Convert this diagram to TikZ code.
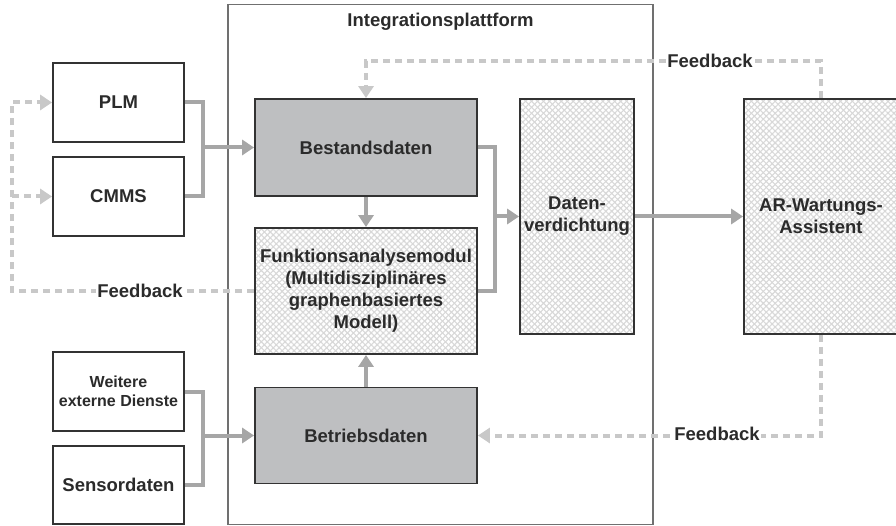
\documentclass[tikz,border=0pt]{standalone}
\usepackage{fontspec}
\setmainfont{Liberation Sans}
\usetikzlibrary{arrows.meta,patterns.meta}
\definecolor{txt}{HTML}{2B2B2B}
\definecolor{border}{HTML}{333333}
\definecolor{darkfill}{HTML}{BEBFC1}
\definecolor{conncol}{HTML}{A6A6A6}
\definecolor{fbcol}{HTML}{C8C8C8}
\definecolor{platcol}{HTML}{707070}
\definecolor{hatchcol}{HTML}{D8D8D8}
\tikzset{
  box/.style={draw=border, line width=1.8pt, fill=white, text=txt, align=center,
    font=\fontsize{18.5}{22}\selectfont\bfseries, inner sep=0pt},
  darkbox/.style={box, fill=darkfill},
  hatchbox/.style={draw=border, line width=1.8pt, text=txt, align=center,
    font=\fontsize{18.5}{22}\selectfont\bfseries, inner sep=0pt,
    preaction={fill=white},
    preaction={pattern={Lines[angle=45,distance=4.2pt,line width=1.1pt]}, pattern color=hatchcol},
    preaction={pattern={Lines[angle=-45,distance=4.2pt,line width=1.1pt]}, pattern color=hatchcol}},
  conn/.style={draw=conncol, line width=4pt},
  flow/.style={conn, -{Triangle[length=12pt,width=15pt]}},
  fb/.style={draw=fbcol, line width=4pt, dash pattern=on 7pt off 5pt},
  fbarrow/.style={fb, -{Triangle[length=12pt,width=15pt]}},
  fblabel/.style={fill=white, text=txt, font=\fontsize{18.5}{22}\selectfont\bfseries, inner sep=1pt},
  plat/.style={draw=platcol, line width=1.5pt}
}
\begin{document}
\begin{tikzpicture}[x=1pt,y=-1pt]
\useasboundingbox (0,0) rectangle (896,526);
% platform
\node[plat, minimum width=425pt, minimum height=520pt, inner sep=0pt] (plat) at (440.5,264.5) {};
\node[text=txt, font=\fontsize{18.5}{22}\selectfont\bfseries] (plattitle) at (440.5,22) {Integrationsplattform};
% external sources
\node[box, minimum width=131pt, minimum height=79pt] (plm) at (118.5,102.5) {PLM};
\node[box, minimum width=131pt, minimum height=79pt] (cmms) at (118.5,196.5) {CMMS};
\node[box, minimum width=131pt, minimum height=79pt, font=\fontsize{16}{19}\selectfont\bfseries] (weitere) at (118.5,391.5) {Weitere\\externe Dienste};
\node[box, minimum width=131pt, minimum height=78pt] (sensor) at (118.5,485) {Sensordaten};
% platform content
\node[darkbox, minimum width=222pt, minimum height=97pt] (best) at (366,147.5) {Bestandsdaten};
\node[hatchbox, minimum width=222pt, minimum height=126pt] (funk) at (366,291) {Funktionsanalysemodul\\(Multidisziplinäres\\graphenbasiertes\\Modell)};
\node[darkbox, minimum width=222pt, minimum height=96pt] (betr) at (366,435.5) {Betriebsdaten};
\node[hatchbox, minimum width=114pt, minimum height=235pt] (daten) at (577,216.5) {Daten-\\verdichtung};
\node[hatchbox, minimum width=154pt, minimum height=235pt] (ar) at (821,216.5) {AR-Wartungs-\\Assistent};
% junction coordinates
\coordinate (j1) at (203,147.5);
\coordinate (j2) at (203,435.5);
\coordinate (j3) at (495,216.5);
\coordinate (t1) at (366,61);
\coordinate (l1) at (12,291);
\coordinate (l2) at (12,102.5);
\coordinate (l3) at (12,196.5);
% solid connectors
\draw[conn] (plm.east) -| (j1);
\draw[conn] (cmms.east) -| (j1);
\draw[flow] (j1) -- (best.west);
\draw[conn] (weitere.east) -| (j2);
\draw[conn] (sensor.east) -| (j2);
\draw[flow] (j2) -- (betr.west);
\draw[flow] (best.south) -- (funk.north);
\draw[flow] (betr.north) -- (funk.south);
\draw[conn] (best.east) -| (j3);
\draw[conn] (funk.east) -| (j3);
\draw[flow] (j3) -- (daten.west);
\draw[flow] (daten.east) -- (ar.west);
% feedback
\draw[fbarrow] (ar.north) |- (t1) -- (best.north);
\draw[fbarrow] (ar.south) |- (betr.east);
\draw[fbarrow] (funk.west) -- (l1) -- (l2) -- (plm.west);
\draw[fbarrow] (l3) -- (cmms.west);
\node[fblabel] (fb1) at (710,61) {Feedback};
\node[fblabel] (fb2) at (717,434) {Feedback};
\node[fblabel] (fb3) at (140,291) {Feedback};
\end{tikzpicture}
\end{document}
